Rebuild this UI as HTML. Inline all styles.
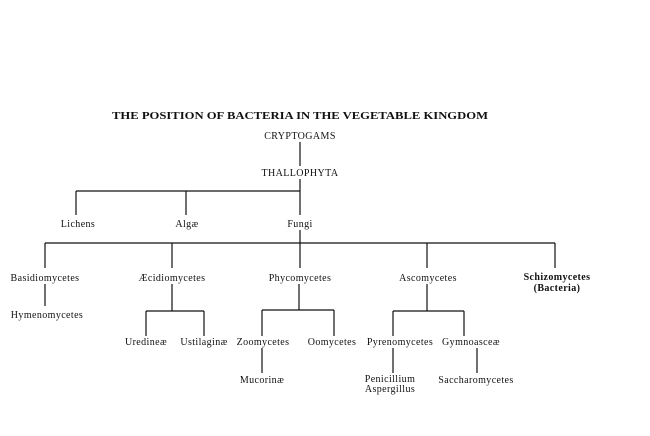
<!DOCTYPE html>
<html><head><meta charset="utf-8"><style>
html,body{margin:0;padding:0;background:#fff;}
svg{display:block;}
text{font-family:"Liberation Serif",serif;font-size:10px;letter-spacing:0.4px;fill:#111;}
</style></head><body>
<svg width="650" height="436" viewBox="0 0 650 436" xmlns="http://www.w3.org/2000/svg">
<g stroke="#111" stroke-width="1.2" fill="none">
<line x1="300" y1="142" x2="300" y2="166"/>
<line x1="300" y1="179" x2="300" y2="191"/>
<line x1="76" y1="191" x2="300" y2="191"/>
<line x1="76" y1="191" x2="76" y2="215"/>
<line x1="186" y1="191" x2="186" y2="215"/>
<line x1="300" y1="191" x2="300" y2="215"/>
<line x1="300" y1="230" x2="300" y2="243"/>
<line x1="45" y1="243" x2="555" y2="243"/>
<line x1="45" y1="243" x2="45" y2="268"/>
<line x1="172" y1="243" x2="172" y2="268"/>
<line x1="300" y1="243" x2="300" y2="268"/>
<line x1="427" y1="243" x2="427" y2="268"/>
<line x1="555" y1="243" x2="555" y2="268"/>
<line x1="45" y1="284" x2="45" y2="306"/>
<line x1="172" y1="284" x2="172" y2="311"/>
<line x1="146" y1="311" x2="204" y2="311"/>
<line x1="146" y1="311" x2="146" y2="336"/>
<line x1="204" y1="311" x2="204" y2="336"/>
<line x1="299" y1="284" x2="299" y2="310"/>
<line x1="262" y1="310" x2="334" y2="310"/>
<line x1="262" y1="310" x2="262" y2="336"/>
<line x1="334" y1="310" x2="334" y2="336"/>
<line x1="262" y1="348" x2="262" y2="373"/>
<line x1="427" y1="284" x2="427" y2="311"/>
<line x1="393" y1="311" x2="464" y2="311"/>
<line x1="393" y1="311" x2="393" y2="336"/>
<line x1="464" y1="311" x2="464" y2="336"/>
<line x1="393" y1="348" x2="393" y2="373"/>
<line x1="477" y1="348" x2="477" y2="373"/>
</g>
<text x="300" y="119" text-anchor="middle" font-weight="bold" style="font-size:10.5px;letter-spacing:0" textLength="376" lengthAdjust="spacingAndGlyphs">THE POSITION OF BACTERIA IN THE VEGETABLE KINGDOM</text>
<text x="300" y="139" text-anchor="middle">CRYPTOGAMS</text>
<text x="300" y="176" text-anchor="middle">THALLOPHYTA</text>
<text x="78" y="227" text-anchor="middle">Lichens</text>
<text x="187" y="227" text-anchor="middle">Algæ</text>
<text x="300" y="227" text-anchor="middle">Fungi</text>
<text x="45" y="281" text-anchor="middle">Basidiomycetes</text>
<text x="172" y="281" text-anchor="middle">Æcidiomycetes</text>
<text x="300" y="281" text-anchor="middle">Phycomycetes</text>
<text x="428" y="281" text-anchor="middle">Ascomycetes</text>
<text x="557" y="280" text-anchor="middle" font-weight="bold">Schizomycetes</text>
<text x="557" y="291" text-anchor="middle" font-weight="bold">(Bacteria)</text>
<text x="47" y="318" text-anchor="middle">Hymenomycetes</text>
<text x="146" y="345" text-anchor="middle">Uredineæ</text>
<text x="204" y="345" text-anchor="middle">Ustilaginæ</text>
<text x="263" y="345" text-anchor="middle">Zoomycetes</text>
<text x="332" y="345" text-anchor="middle">Oomycetes</text>
<text x="400" y="345" text-anchor="middle">Pyrenomycetes</text>
<text x="471" y="345" text-anchor="middle">Gymnoasceæ</text>
<text x="262" y="383" text-anchor="middle">Mucorinæ</text>
<text x="390" y="382" text-anchor="middle">Penicillium</text>
<text x="390" y="392" text-anchor="middle">Aspergillus</text>
<text x="476" y="383" text-anchor="middle">Saccharomycetes</text>
</svg>
</body></html>
